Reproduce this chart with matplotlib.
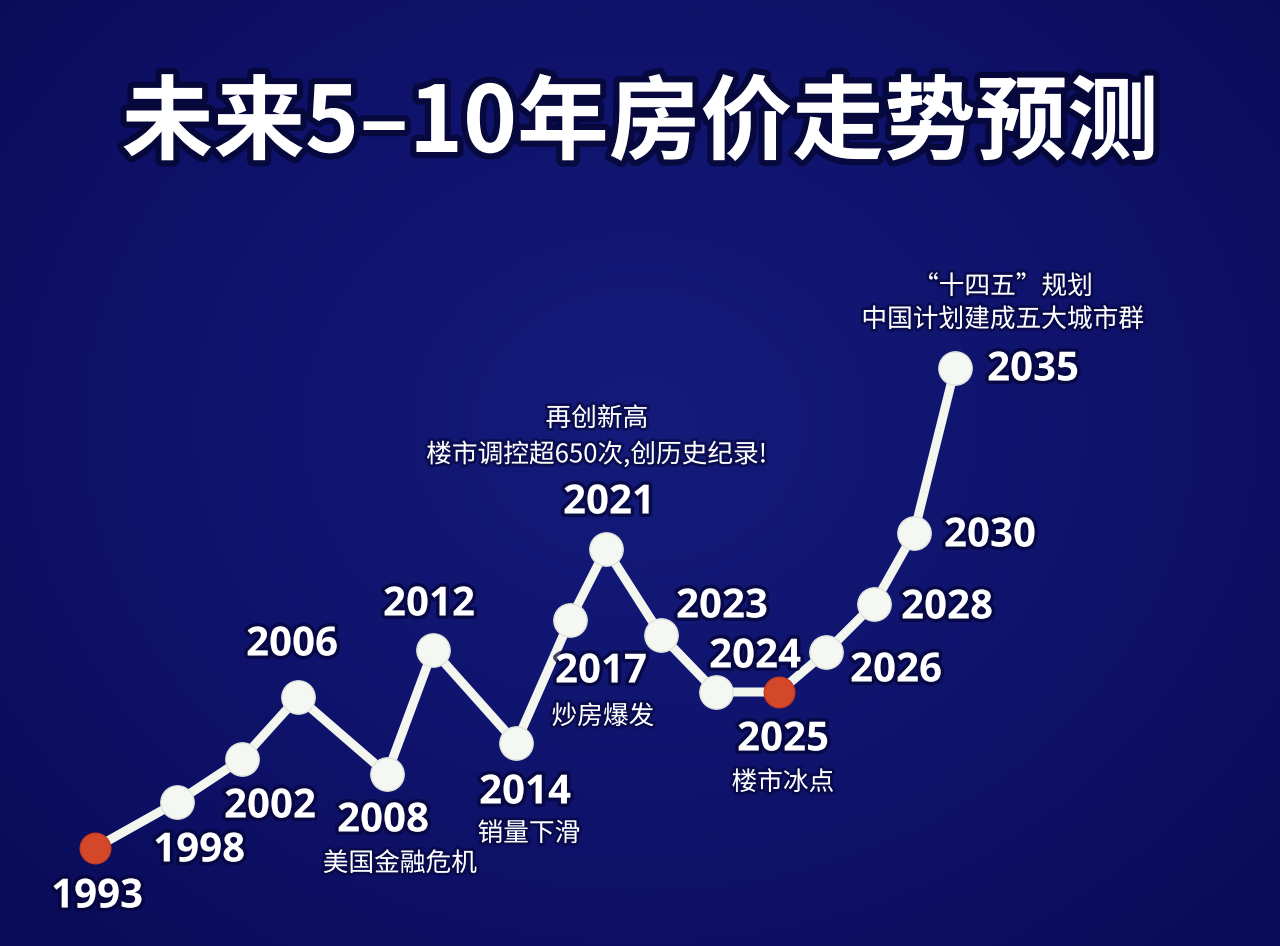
import numpy as np
import matplotlib
matplotlib.use("Agg")
import matplotlib.pyplot as plt
import matplotlib.patheffects as pe
from matplotlib.colors import LinearSegmentedColormap

plt.rcParams['font.family'] = ['Noto Sans CJK SC', 'DejaVu Sans']

# ---- data -------------------------------------------------------------
title = "未来5–10年房价走势预测"
years = ["1993", "1998", "2002", "2006", "2008", "2012", "2014", "2017",
         "2021", "2023", "2024", "2025", "2026", "2028", "2030", "2035"]
# horizontal position along the (schematic) time axis
pos = [9.5, 17.7, 24.2, 29.8, 38.7, 43.3, 51.6, 57.0,
       60.6, 66.1, 71.6, 77.9, 82.6, 87.4, 91.4, 95.5]
# relative house-price level
level = [9.8, 14.4, 18.7, 24.9, 17.2, 29.6, 20.3, 32.6,
         39.7, 31.1, 25.4, 25.4, 29.4, 34.2, 41.3, 57.8]
highlight = ["1993", "2025"]

notes = {
    "2008": ["美国金融危机"],
    "2014": ["销量下滑"],
    "2017": ["炒房爆发"],
    "2025": ["楼市冰点"],
    "2021": ["再创新高", "楼市调控超650次,创历史纪录!"],
    "2035": ["“十四五”规划", "中国计划建成五大城市群"],
}

# label placement (offset in pixels from the point: dx, dy)
year_offset = {
    "1993": (2, -49), "1998": (22, -49), "2002": (28, -48), "2006": (-6, 52),
    "2008": (-4, -47), "2012": (-4, 45), "2014": (9, -50), "2017": (31, -52),
    "2021": (3, 46), "2023": (61, 28), "2024": (39, 35), "2025": (4, -48),
    "2026": (70, -19), "2028": (73, -4), "2030": (76, -3), "2035": (78, -2),
}
note_offset = {
    "2008": (13, -90), "2014": (13, -91), "2017": (33, -97), "2025": (4, -91),
    "2021": (-9, 130), "2035": (48, 81),
}
note_line_gap = {"2021": 36, "2035": 33}

# ---- figure -----------------------------------------------------------
W, H = 1280, 946
fig = plt.figure(figsize=(W / 100, H / 100), dpi=100)

# background: deep navy, very slightly lighter toward the centre
bg = fig.add_axes([0, 0, 1, 1], zorder=0)
yy, xx = np.mgrid[0:1:300j, 0:1:400j]
r = np.sqrt(((xx - 0.5) / 0.75) ** 2 + ((yy - 0.45) / 0.85) ** 2)
cmap = LinearSegmentedColormap.from_list("navy", ["#141b7a", "#0f136c", "#0a0b58"])
bg.imshow(np.clip(r, 0, 1), cmap=cmap, aspect="auto", extent=[0, 1, 0, 1],
          interpolation="bicubic")
bg.set_axis_off()

ax = fig.add_axes([0, 0, 1, 1], zorder=1)
ax.set_xlim(0, 128)
ax.set_ylim(0, 94.6)
ax.set_axis_off()
ax.patch.set_alpha(0)

shadow = [pe.withStroke(linewidth=5, foreground="#05063a", alpha=0.75)]

# title
fig.text(0.5, 1 - 125 / H, title, ha="center", va="center", color="white",
         fontsize=66, fontweight="bold",
         path_effects=[pe.withStroke(linewidth=9, foreground="#02031f", alpha=0.6)])

# trend line
ax.plot(pos, level, color="#f3f5ef", lw=6.5, solid_capstyle="round",
        solid_joinstyle="round", zorder=2)
for yr, x, y in zip(years, pos, level):
    if yr in highlight:
        ax.plot(x, y, "o", ms=22, color="#d4482a", mec="#c53b22", mew=1, zorder=3)
    else:
        ax.plot(x, y, "o", ms=24, color="#f5f7f2", mec="#dfe3dc", mew=1, zorder=3)

# year labels
for yr, x, y in zip(years, pos, level):
    dx, dy = year_offset[yr]
    ax.annotate(yr, (x, y), xytext=(dx, dy), textcoords="offset pixels",
                ha="center", va="center", color="white", fontsize=29,
                fontweight="bold", family=["Open Sans", "DejaVu Sans"],
                path_effects=shadow, zorder=4)

# event notes
for yr, lines in notes.items():
    i = years.index(yr)
    dx, dy = note_offset[yr]
    gap = note_line_gap.get(yr, 36)
    for k, line in enumerate(lines):
        ax.annotate(line, (pos[i], level[i]),
                    xytext=(dx, dy - k * gap), textcoords="offset pixels",
                    ha="center", va="center", color="white", fontsize=18.5,
                    family=["Noto Sans CJK SC", "DejaVu Sans"],
                    path_effects=[pe.withStroke(linewidth=4, foreground="#05063a",
                                                alpha=0.6)],
                    zorder=4)

fig.savefig("out.png", dpi=100)
